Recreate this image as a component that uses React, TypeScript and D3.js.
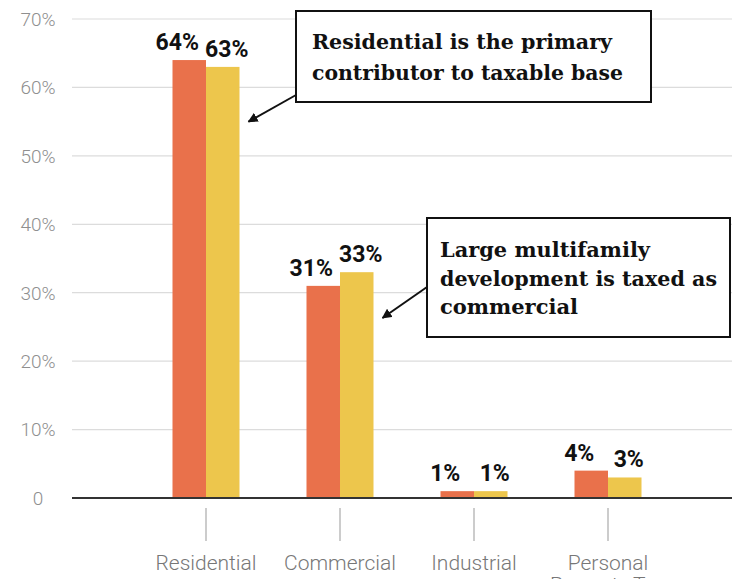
import React from 'react';
import * as d3 from 'd3';

const categories = ['Residential', 'Commercial', 'Industrial', 'Personal Property Tax'];
const categoryLines = [['Residential'], ['Commercial'], ['Industrial'], ['Personal', 'Property Tax']];
const seriesKeys = ['a', 'b'];
const seriesA = [64, 31, 1, 4];
const seriesB = [63, 33, 1, 3];
const yTicks = [0, 10, 20, 30, 40, 50, 60, 70];
const note1Lines = ['Residential is the primary', 'contributor to taxable base'];
const note2Lines = ['Large multifamily', 'development is taxed as', 'commercial'];
const note1Target = { category: 'Residential', value: 55 };
const note2Target = { category: 'Commercial', value: 26.3 };

const W = 732;
const H = 579;
const colors = ['#E9714B', '#EDC64C'];
const labelDx = [-12, 4];
const note1Widths = [300, 311];
const note2Widths = [210, 277, 138];

export default function App() {
  const y = d3.scaleLinear().domain([0, 70]).range([498, 19]);
  const x = d3.scaleBand().domain(categories).range([139, 675]).padding(0);
  const bw = x.bandwidth();
  const xs = d3.scaleBand().domain(seriesKeys).range([bw * 0.25, bw * 0.75]).padding(0);
  const series = [seriesA, seriesB];
  const gridX0 = 72;

  const tip = (t: { category: string; value: number }) => ({
    x: (x(t.category) as number) + (xs('b') as number) + xs.bandwidth() + 9,
    y: y(t.value),
  });
  const t1 = tip(note1Target);
  const t2 = tip(note2Target);

  const serif = '"DejaVu Serif", serif';
  const sans = 'Roboto, "Open Sans", sans-serif';

  return (
    <svg width={W} height={H} style={{ position: 'absolute', left: 0, top: 0, background: '#fff' }}>
      <defs>
        <marker id="ah" viewBox="0 0 10 10" refX="9" refY="5" markerWidth="5" markerHeight="5" orient="auto-start-reverse">
          <path d="M0,0 L10,5 L0,10 z" fill="#111" />
        </marker>
      </defs>
      <rect x={0} y={0} width={W} height={H} fill="#fff" />
      {yTicks.map((t) => (
        <g key={t}>
          {t > 0 && <line x1={gridX0} x2={W} y1={y(t)} y2={y(t)} stroke="#dcdcdc" strokeWidth={1.2} />}
          <text x={38} y={y(t)} dy="0.36em" textAnchor="middle" fontFamily={sans} fontWeight={300} fontSize={19} fill="#8f8f8f">
            {t === 0 ? '0' : `${t}%`}
          </text>
        </g>
      ))}
      {categories.map((c, i) => (
        <g key={c} transform={`translate(${x(c)},0)`}>
          {series.map((s, j) => (
            <rect key={j} x={xs(seriesKeys[j])} y={y(s[i])} width={xs.bandwidth()} height={y(0) - y(s[i])} fill={colors[j]} />
          ))}
        </g>
      ))}
      <line x1={gridX0} x2={W} y1={y(0)} y2={y(0)} stroke="#333" strokeWidth={2} />
      {categories.map((c, i) => (
        <g key={c + 'lab'}>
          {series.map((s, j) => (
            <text
              key={j}
              x={(x(c) as number) + (xs(seriesKeys[j]) as number) + xs.bandwidth() / 2 + labelDx[j]}
              y={y(s[i]) - 10}
              textAnchor="middle"
              fontFamily={sans}
              fontWeight={700}
              fontSize={23}
              fill="#111"
            >
              {`${s[i]}%`}
            </text>
          ))}
          <line x1={(x(c) as number) + bw / 2} x2={(x(c) as number) + bw / 2} y1={508} y2={541} stroke="#aaa" strokeWidth={1.2} />
          <text x={(x(c) as number) + bw / 2} y={570} textAnchor="middle" fontFamily={sans} fontWeight={300} fontSize={21} fill="#777">
            {categoryLines[i].map((l, k) => (
              <tspan key={k} x={(x(c) as number) + bw / 2} dy={k === 0 ? 0 : 22}>{l}</tspan>
            ))}
          </text>
        </g>
      ))}
      {/* annotation 1 */}
      <line x1={296} y1={95} x2={t1.x} y2={t1.y} stroke="#111" strokeWidth={2} markerEnd="url(#ah)" />
      <rect x={296} y={11} width={355} height={91} fill="#fff" stroke="#111" strokeWidth={2} />
      {note1Lines.map((l, k) => (
        <text key={k} x={312} y={49 + k * 31} fontFamily={serif} fontWeight={700} fontSize={21} fill="#111" textLength={note1Widths[k]} lengthAdjust="spacingAndGlyphs">
          {l}
        </text>
      ))}
      {/* annotation 2 */}
      <line x1={427} y1={287} x2={t2.x} y2={t2.y} stroke="#111" strokeWidth={2} markerEnd="url(#ah)" />
      <rect x={427} y={218} width={303} height={119} fill="#fff" stroke="#111" strokeWidth={2} />
      {note2Lines.map((l, k) => (
        <text key={k} x={440} y={257 + k * 28.5} fontFamily={serif} fontWeight={700} fontSize={21} fill="#111" textLength={note2Widths[k]} lengthAdjust="spacingAndGlyphs">
          {l}
        </text>
      ))}
    </svg>
  );
}
